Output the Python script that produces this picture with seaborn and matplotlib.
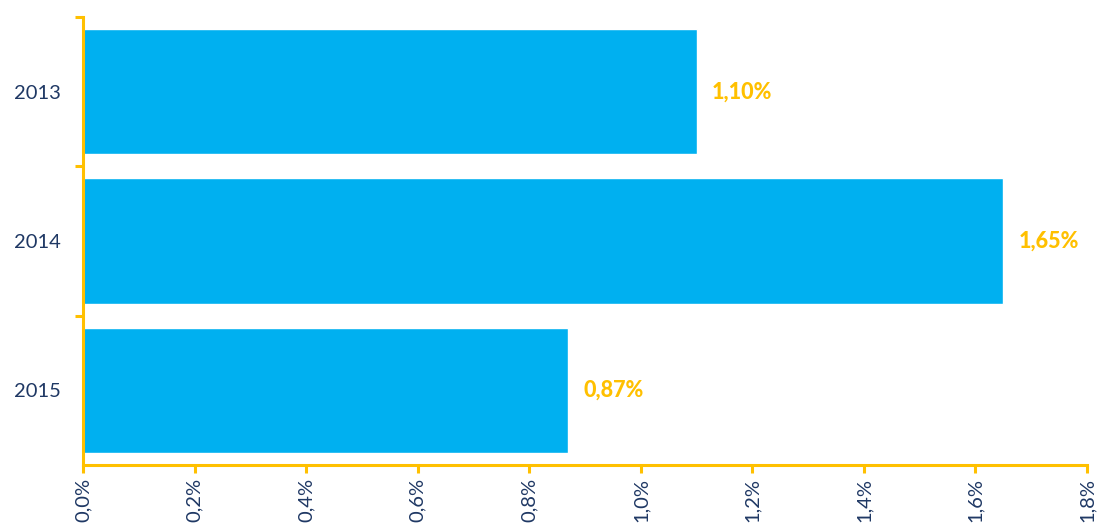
import matplotlib
matplotlib.use("Agg")
import matplotlib.pyplot as plt
import seaborn as sns
import pandas as pd
import numpy as np
from matplotlib.ticker import FixedLocator

years = ["2013", "2014", "2015"]
values = [1.10, 1.65, 0.87]
xticks = [0.0, 0.2, 0.4, 0.6, 0.8, 1.0, 1.2, 1.4, 1.6, 1.8]
labels = ["1,10%", "1,65%", "0,87%"]

BAR = "#00B0F0"
GOLD = "#FFC000"
NAVY = "#1F3864"

sns.set_style("white")
plt.rcParams['font.family'] = ['Lato', 'DejaVu Sans']

fig = plt.figure(figsize=(11.01, 5.32), dpi=100)
ax = fig.add_axes([83/1101, 1-465/532, (1087-83)/1101, (465-17)/532])

df = pd.DataFrame({"year": years, "value": values})
sns.barplot(data=df, x="value", y="year", orient="h", color=BAR, saturation=1,
            width=0.84, ax=ax)

ax.set_xlim(0, 1.8)
ax.set_ylim(2.5, -0.5)
ax.set_xticks(xticks)
ax.set_xticklabels([f"{t:.1f}%".replace(".", ",") for t in xticks], rotation=90,
                   color=NAVY, fontsize=14.5)
ax.set_yticks(range(len(years)))
ax.set_yticklabels(years, color=NAVY, fontsize=14.5)
ax.tick_params(axis='y', which='major', length=0, pad=16)
ax.yaxis.set_minor_locator(FixedLocator([-0.5, 0.5, 1.5]))
ax.tick_params(axis='y', which='minor', length=6, width=2.2, color=GOLD, left=True)
ax.tick_params(axis='x', which='major', length=6, width=2.2, color=GOLD, bottom=True, pad=3)
ax.set_xlabel("")
ax.set_ylabel("")

for s in ["top", "right"]:
    ax.spines[s].set_visible(False)
for s in ["left", "bottom"]:
    ax.spines[s].set_color(GOLD)
    ax.spines[s].set_linewidth(2.2)

for i, (v, lab) in enumerate(zip(values, labels)):
    ax.annotate(lab, xy=(v, i), xytext=(11, 0), textcoords="offset points",
                ha="left", va="center", color=GOLD, fontweight="black", fontsize=15.5)

fig.savefig("out.png", dpi=100)
